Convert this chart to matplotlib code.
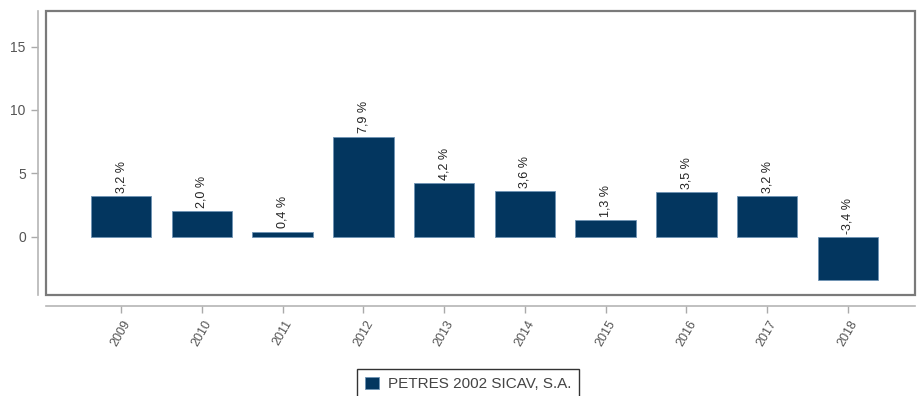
import matplotlib
matplotlib.use("Agg")
import matplotlib.pyplot as plt
from matplotlib.patches import Rectangle

plt.rcParams['font.family'] = ['Liberation Sans', 'DejaVu Sans']

years = ['2009', '2010', '2011', '2012', '2013', '2014', '2015', '2016', '2017', '2018']
returns = [3.2, 2.0, 0.4, 7.9, 4.2, 3.6, 1.3, 3.5, 3.2, -3.4]
series_name = 'PETRES 2002 SICAV, S.A.'
y_ticks = [0, 5, 10, 15]

W, H = 918, 396
fig = plt.figure(figsize=(W / 100, H / 100), dpi=100)
ax = fig.add_axes([46 / W, (H - 295) / H, (915 - 46) / W, (295 - 11) / H])

# detached axis lines outside the plotting frame
for side in ['top', 'right']:
    ax.spines[side].set_visible(False)
ax.spines['left'].set_position(('outward', 6))
ax.spines['bottom'].set_position(('outward', 8))
for side in ['left', 'bottom']:
    ax.spines[side].set_color('#b5b5b5')
    ax.spines[side].set_linewidth(1.2)

bar_color = '#03365f'
x = list(range(len(years)))
ax.bar(x, returns, width=0.75, color=bar_color, edgecolor='#6f93b5',
       linewidth=0.6, label=series_name, zorder=2)

for xi, v in zip(x, returns):
    txt = f"{v:.1f} %".replace('.', ',')
    ax.text(xi, max(v, 0) + 0.25, txt, rotation=90, ha='center', va='bottom',
            fontsize=9, color='#222222')

ax.set_xlim(-0.93, 9.83)
ax.set_ylim(-4.6, 17.8)
ax.set_xticks(x)
ax.set_xticklabels(years)
ax.set_yticks(y_ticks)
ax.set_yticklabels([str(t) for t in y_ticks])
ax.tick_params(axis='both', length=5, color='#aaaaaa', width=1,
               labelcolor='#555555')
ax.tick_params(axis='x', labelrotation=60, labelsize=9)
ax.tick_params(axis='y', labelsize=10)

# plotting frame
ax.add_patch(Rectangle((0, 0), 1, 1, transform=ax.transAxes, fill=False,
                       edgecolor='#7a7a7a', linewidth=1.6, clip_on=False, zorder=3))

leg = ax.legend(loc='upper center', bbox_to_anchor=(468 / W, 27 / H),
                bbox_transform=fig.transFigure, frameon=True, fancybox=False,
                fontsize=11, handlelength=0.9, handleheight=0.9,
                borderpad=0.5, handletextpad=0.6, borderaxespad=0)
leg.get_frame().set_edgecolor('black')
leg.get_frame().set_linewidth(1.0)
for t in leg.get_texts():
    t.set_color('#444444')

fig.savefig('out.png', dpi=100)
